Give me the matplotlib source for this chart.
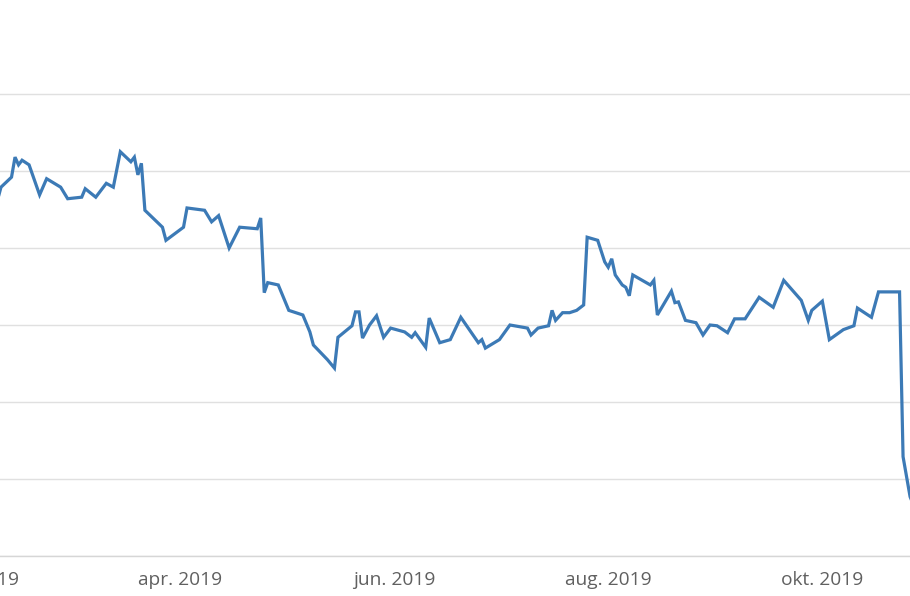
import pandas as pd
import matplotlib.pyplot as plt
from matplotlib.transforms import ScaledTranslation

plt.rcParams['font.family'] = ['Open Sans', 'DejaVu Sans']

# daily closing values (no y labels visible, arbitrary units)
dates = [
    "2019-02-08", "2019-02-09", "2019-02-12", "2019-02-13", "2019-02-14", "2019-02-15",
    "2019-02-17", "2019-02-20", "2019-02-22", "2019-02-26", "2019-02-28", "2019-03-04",
    "2019-03-05", "2019-03-08", "2019-03-11", "2019-03-13", "2019-03-15", "2019-03-18",
    "2019-03-19", "2019-03-20", "2019-03-21", "2019-03-22", "2019-03-27", "2019-03-28",
    "2019-04-02", "2019-04-03", "2019-04-08", "2019-04-10", "2019-04-12", "2019-04-15",
    "2019-04-18", "2019-04-23", "2019-04-24", "2019-04-25", "2019-04-26", "2019-04-29",
    "2019-05-02", "2019-05-06", "2019-05-08", "2019-05-09", "2019-05-13", "2019-05-15",
    "2019-05-16", "2019-05-20", "2019-05-21", "2019-05-22", "2019-05-23", "2019-05-25",
    "2019-05-27", "2019-05-29", "2019-05-31", "2019-06-04", "2019-06-06", "2019-06-07",
    "2019-06-10", "2019-06-11", "2019-06-14", "2019-06-17", "2019-06-20", "2019-06-25",
    "2019-06-26", "2019-06-27", "2019-07-01", "2019-07-04", "2019-07-09", "2019-07-10",
    "2019-07-12", "2019-07-15", "2019-07-16", "2019-07-17", "2019-07-19", "2019-07-21",
    "2019-07-23", "2019-07-25", "2019-07-26", "2019-07-29", "2019-07-31", "2019-08-01",
    "2019-08-02", "2019-08-03", "2019-08-05", "2019-08-06", "2019-08-07", "2019-08-08",
    "2019-08-13", "2019-08-14", "2019-08-15", "2019-08-19", "2019-08-20", "2019-08-21",
    "2019-08-23", "2019-08-26", "2019-08-28", "2019-08-30", "2019-09-01", "2019-09-04",
    "2019-09-06", "2019-09-09", "2019-09-13", "2019-09-17", "2019-09-20", "2019-09-25",
    "2019-09-27", "2019-09-28", "2019-10-01", "2019-10-03", "2019-10-07", "2019-10-10",
    "2019-10-11", "2019-10-15", "2019-10-17", "2019-10-23", "2019-10-24", "2019-10-26",
    "2019-10-27",
]
values = [
    96.2, 97.9, 99.2, 101.8, 100.8, 101.4,
    100.8, 96.9, 99.0, 97.9, 96.4, 96.6,
    97.7, 96.6, 98.4, 97.9, 102.5, 101.2,
    101.8, 99.5, 101.0, 94.9, 92.7, 91.0,
    92.7, 95.2, 94.9, 93.4, 94.2, 90.0,
    92.7, 92.5, 93.9, 84.2, 85.5, 85.2,
    81.9, 81.3, 79.1, 77.4, 75.5, 74.4,
    78.4, 79.9, 81.7, 81.7, 78.3, 80.0,
    81.2, 78.4, 79.6, 79.1, 78.4, 79.0,
    77.1, 80.9, 77.7, 78.1, 81.0, 77.7,
    78.1, 77.0, 78.1, 80.0, 79.6, 78.7,
    79.6, 79.9, 81.9, 80.6, 81.6, 81.6,
    81.9, 82.6, 91.4, 91.0, 88.2, 87.5,
    88.6, 86.5, 85.2, 84.9, 83.8, 86.5,
    85.2, 85.8, 81.3, 84.4, 82.9, 83.0,
    80.6, 80.3, 78.7, 80.0, 79.9, 79.0,
    80.8, 80.8, 83.6, 82.3, 85.8, 83.2,
    80.6, 81.9, 83.1, 78.1, 79.4, 79.9,
    82.2, 81.0, 84.3, 84.3, 62.9, 57.7,
    56.6,
]
tick_dates = ["2019-02-01", "2019-04-01", "2019-06-01", "2019-08-01", "2019-10-01"]
tick_labels = ["feb. 2019", "apr. 2019", "jun. 2019", "aug. 2019", "okt. 2019"]
y_grid = [50, 60, 70, 80, 90, 100, 110]

series = pd.Series(values, index=pd.to_datetime(dates))

# the reference is a cut-out of a wider chart: the axes start left of the figure edge
W, H = 910, 596
left_px = -60
fig = plt.figure(figsize=(W / 100, H / 100), dpi=100)
ax = fig.add_axes([left_px / W, 40 / H, (W - left_px) / W, 556 / H])

ax.plot(series.index, series.values, color='#3c7ab6', linewidth=2.3, solid_joinstyle='miter')

ax.set_xticks(pd.to_datetime(tick_dates))
ax.set_xticklabels(tick_labels)
ax.set_yticks(y_grid)

apr = pd.Timestamp("2019-04-01")
px_per_day = 3.51
ax.set_xlim(apr - pd.Timedelta(days=(180 - left_px) / px_per_day),
            apr + pd.Timedelta(days=(W - 180) / px_per_day))
ax.set_ylim(50, 50 + 556 / 7.7)

ax.tick_params(axis='x', length=0, pad=11, labelsize=13.8, labelcolor='#606060')
ax.tick_params(axis='y', length=0, labelleft=False)
ax.grid(axis='y', color='#e0e0e0', linewidth=1)
ax.set_axisbelow(True)

for side in ['top', 'left', 'right']:
    ax.spines[side].set_visible(False)
ax.spines['bottom'].set_color('#d6d6d6')
ax.spines['bottom'].set_linewidth(1)

# feb label sits a few pixels further right in the original
first = ax.get_xticklabels()[0]
first.set_transform(first.get_transform() + ScaledTranslation(5 / 100, 0, fig.dpi_scale_trans))

fig.savefig('out.png', dpi=100)
